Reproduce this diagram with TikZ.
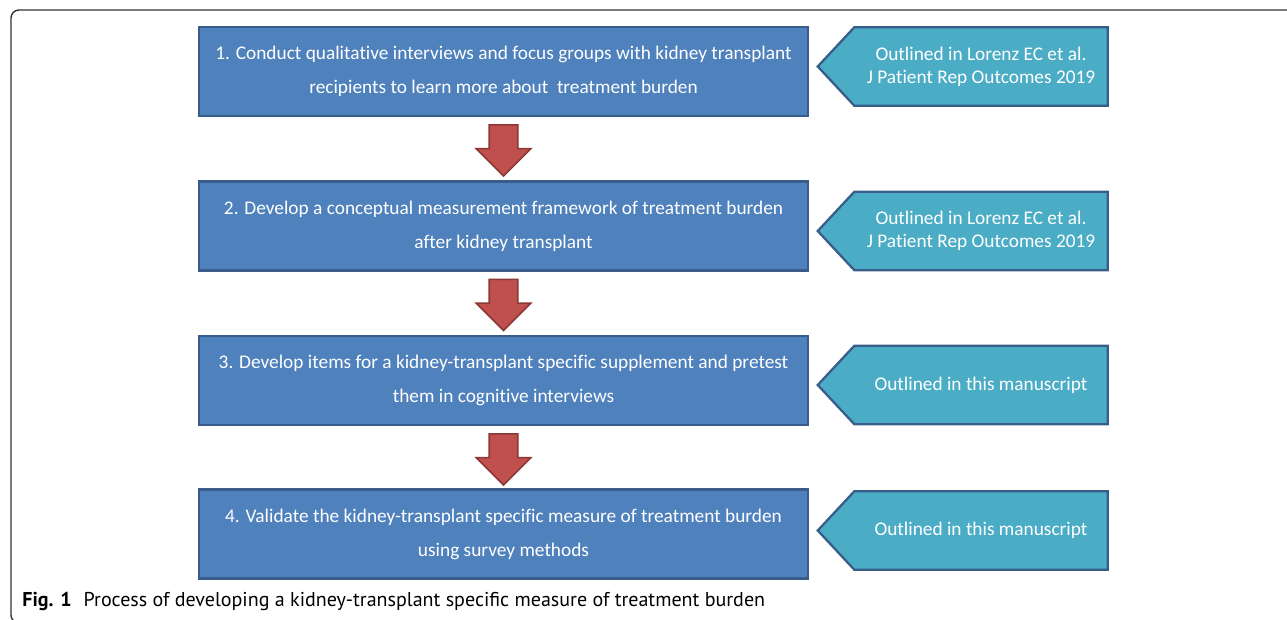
\documentclass[tikz,border=0pt]{standalone}
\usepackage{fontspec}
\setmainfont{Carlito}[Ligatures=NoCommon]
\newfontfamily\capfont{PT Sans}
\usetikzlibrary{calc,shapes.arrows,shapes.symbols}
\definecolor{stepblue}{rgb}{0.31,0.506,0.741}
\definecolor{stepedge}{rgb}{0.22,0.365,0.541}
\definecolor{noteaqua}{rgb}{0.294,0.675,0.776}
\definecolor{arrowred}{rgb}{0.753,0.314,0.302}
\definecolor{arrowedge}{rgb}{0.549,0.22,0.212}
\definecolor{framegray}{rgb}{0.2,0.2,0.2}

\begin{document}
\begin{tikzpicture}[x=0.02cm,y=-0.02cm,
  stepbox/.style={draw=stepedge,line width=1.3pt,fill=stepblue,text=white,
    minimum width=12.18cm,minimum height=1.78cm,align=center,
    font=\fontsize{11}{19.4}\selectfont},
  notebox/.style={signal,signal to=west,signal pointer angle=94,draw=stepedge,
    line width=1.3pt,fill=noteaqua,text=white,minimum width=5.8cm,
    minimum height=1.57cm,align=center,font=\fontsize{11}{13}\selectfont},
  downarrow/.style={single arrow,rotate=-90,anchor=tail,draw=arrowedge,line width=0.9pt,
    fill=arrowred,inner xsep=0pt,inner ysep=0.27cm,minimum height=1.02cm,
    single arrow head extend=0.26cm}]
\useasboundingbox (0,0) rectangle (1287,619);
\begin{scope}
\clip (0,0) rectangle (1287,619);
\draw [framegray,line width=0.8pt,rounded corners=0.16cm] (1320,10) -- (11,10) -- (11,623) -- (1320,623);
\end{scope}
% steps
\node [stepbox] (s1) at (503.5,71.5) {1. Conduct qualitative interviews and focus groups with kidney transplant\\recipients to learn more about~ treatment burden};
\node [stepbox] (s2) at (503.5,226) {2. Develop a conceptual measurement framework of treatment burden\\after kidney transplant};
\node [stepbox] (s3) at (503.5,380.5) {3. Develop items for a kidney-transplant specific supplement and pretest\\them in cognitive interviews};
\node [stepbox] (s4) at (503.5,534) {4. Validate the kidney-transplant specific measure of treatment burden\\using survey methods};
% arrows between steps
\node [downarrow] (a1) at ($(s1.south)+(0,7)$) {};
\node [downarrow] (a2) at ($(s2.south)+(0,7)$) {};
\node [downarrow] (a3) at ($(s3.south)+(0,7)$) {};
% references
\node [notebox] (n1) at (981,66.5) {Outlined in Lorenz EC et al.\\J Patient Rep Outcomes 2019};
\node [notebox] (n2) at (981,231) {Outlined in Lorenz EC et al.\\J Patient Rep Outcomes 2019};
\node [notebox] (n3) at (981,385) {Outlined in this manuscript};
\node [notebox] (n4) at (981,530.5) {Outlined in this manuscript};
% caption
\node [anchor=west,inner sep=0pt,font=\capfont\fontsize{11.4}{13}\selectfont] (cap) at (22,601) {\textbf{Fig. 1}\hspace{0.6em}Process of developing a kidney-transplant specific measure of treatment burden};
\end{tikzpicture}
\end{document}
